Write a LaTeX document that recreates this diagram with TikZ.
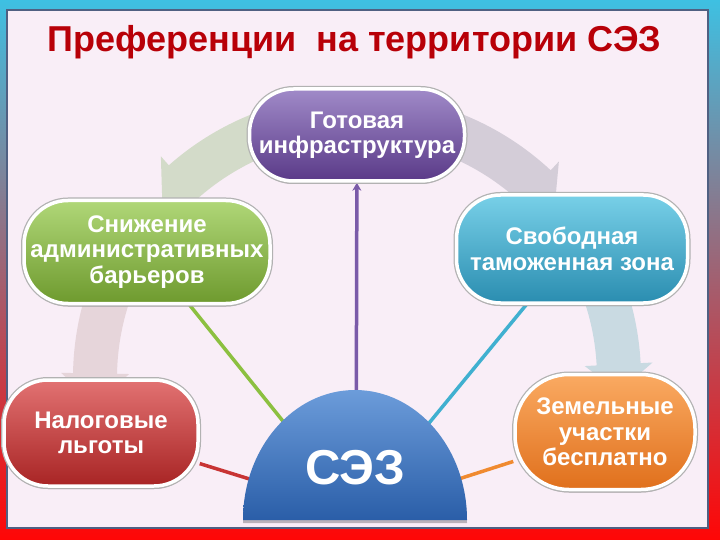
\documentclass[tikz,border=0pt]{standalone}
\usepackage{fontspec}
\setmainfont{Liberation Sans}
\usetikzlibrary{shadows,arrows.meta}
\pgfdeclarelayer{bg}
\pgfsetlayers{bg,main}
\definecolor{frameTop}{HTML}{3EC0E2}
\definecolor{frameMid}{HTML}{8A64A8}
\definecolor{frameBot}{HTML}{FF0606}
\definecolor{bgPink}{HTML}{F9EEF7}
\definecolor{frameLine}{HTML}{506082}
\definecolor{titleRed}{HTML}{B80008}
\definecolor{arTL}{HTML}{D3DBC9}
\definecolor{arL}{HTML}{E6D5DA}
\definecolor{arTR}{HTML}{D4CDD8}
\definecolor{arR}{HTML}{C9DAE2}
\definecolor{gotTop}{HTML}{A08AC8}
\definecolor{gotBot}{HTML}{5A3A88}
\definecolor{snTop}{HTML}{B0D778}
\definecolor{snBot}{HTML}{6E9A2E}
\definecolor{svTop}{HTML}{78D0E8}
\definecolor{svBot}{HTML}{2A8DB0}
\definecolor{nlTop}{HTML}{E27272}
\definecolor{nlBot}{HTML}{A82424}
\definecolor{zmTop}{HTML}{FAAA62}
\definecolor{zmBot}{HTML}{E0701C}
\definecolor{sezTop}{HTML}{6C9CDA}
\definecolor{sezBot}{HTML}{2A5EA8}
\definecolor{cPur}{HTML}{7A5AA8}
\definecolor{cGrn}{HTML}{8CC040}
\definecolor{cBlu}{HTML}{40B0D0}
\definecolor{cRed}{HTML}{C83434}
\definecolor{cOrg}{HTML}{F08A30}
\newcommand{\ringarrow}[4]{%
  \fill[#1] ([shift={(357,378)}]#2:284) arc[start angle=#2, end angle=#3, radius=284]
    -- ([shift={(357,378)}]#3:296) -- ([shift={(357,378)}]#4:262)
    -- ([shift={(357,378)}]#3:228) -- ([shift={(357,378)}]#3:240)
    arc[start angle=#3, end angle=#2, radius=240] -- cycle;}
\tikzset{
  box/.style={draw=white, line width=3.5pt, rounded corners=44pt, align=center,
    text=white, inner sep=0pt,
    font=\bfseries\fontsize{24}{25.5}\selectfont,
    drop shadow={shadow xshift=0pt, shadow yshift=-3pt, opacity=0.25, fill=black},
    preaction={draw=black!30, line width=6pt}},
  conn/.style={line width=3.5pt},
  titletext/.style={text=titleRed, font=\bfseries\fontsize{36}{40}\selectfont}
}
\begin{document}
\begin{tikzpicture}[x=1pt,y=-1pt]
\useasboundingbox (0,0) rectangle (720,540);
\begin{pgfonlayer}{bg}
\shade[top color=frameTop, middle color=frameMid, bottom color=frameBot] (0,0) rectangle (720,540);
\fill[bgPink, draw=frameLine, line width=2.5pt] (7,10) rectangle (708,528);
\ringarrow{arTL}{262}{228.5}{222}
\ringarrow{arL}{205}{181}{174}
\ringarrow{arTR}{278}{313}{319}
\ringarrow{arR}{335}{357}{363}
\end{pgfonlayer}

\node[titletext] (title) at (354,42) {Преференции~ на территории СЭЗ};

\node[box, top color=gotTop, bottom color=gotBot, minimum width=215pt, minimum height=92pt] (got) at (357,135) {Готовая\\инфраструктура};
\node[box, top color=snTop, bottom color=snBot, minimum width=246pt, minimum height=103pt] (sn) at (147,252) {Снижение\\административных\\барьеров};
\node[box, top color=svTop, bottom color=svBot, minimum width=231pt, minimum height=108pt] (sv) at (572,249) {Свободная\\таможенная зона};
\node[box, top color=nlTop, bottom color=nlBot, minimum width=194pt, minimum height=106pt] (nl) at (101,433) {Налоговые\\льготы};
\node[box, rounded corners=54pt, top color=zmTop, bottom color=zmBot, minimum width=180pt, minimum height=115pt] (zm) at (605,432) {Земельные\\участки\\бесплатно};

\coordinate (hub) at (356,512);
\begin{pgfonlayer}{bg}
\draw[conn, cPur, -{Stealth[length=8pt,width=9pt]}] (hub) -- (got);
\draw[conn, cGrn] (hub) -- (sn);
\draw[conn, cBlu] (hub) -- (sv);
\draw[conn, cRed] (hub) -- (nl);
\draw[conn, cOrg] (hub) -- (zm);
\end{pgfonlayer}

\shade[top color=sezTop, bottom color=sezBot, drop shadow={shadow xshift=0pt, shadow yshift=-3pt, opacity=0.25, fill=black}]
  (243,520) arc[start angle=180, end angle=360, x radius=112, y radius=130] -- cycle;
\node[text=white, font=\bfseries\fontsize{49}{49}\selectfont] (sez) at (355,468) {СЭЗ};
\end{tikzpicture}
\end{document}
